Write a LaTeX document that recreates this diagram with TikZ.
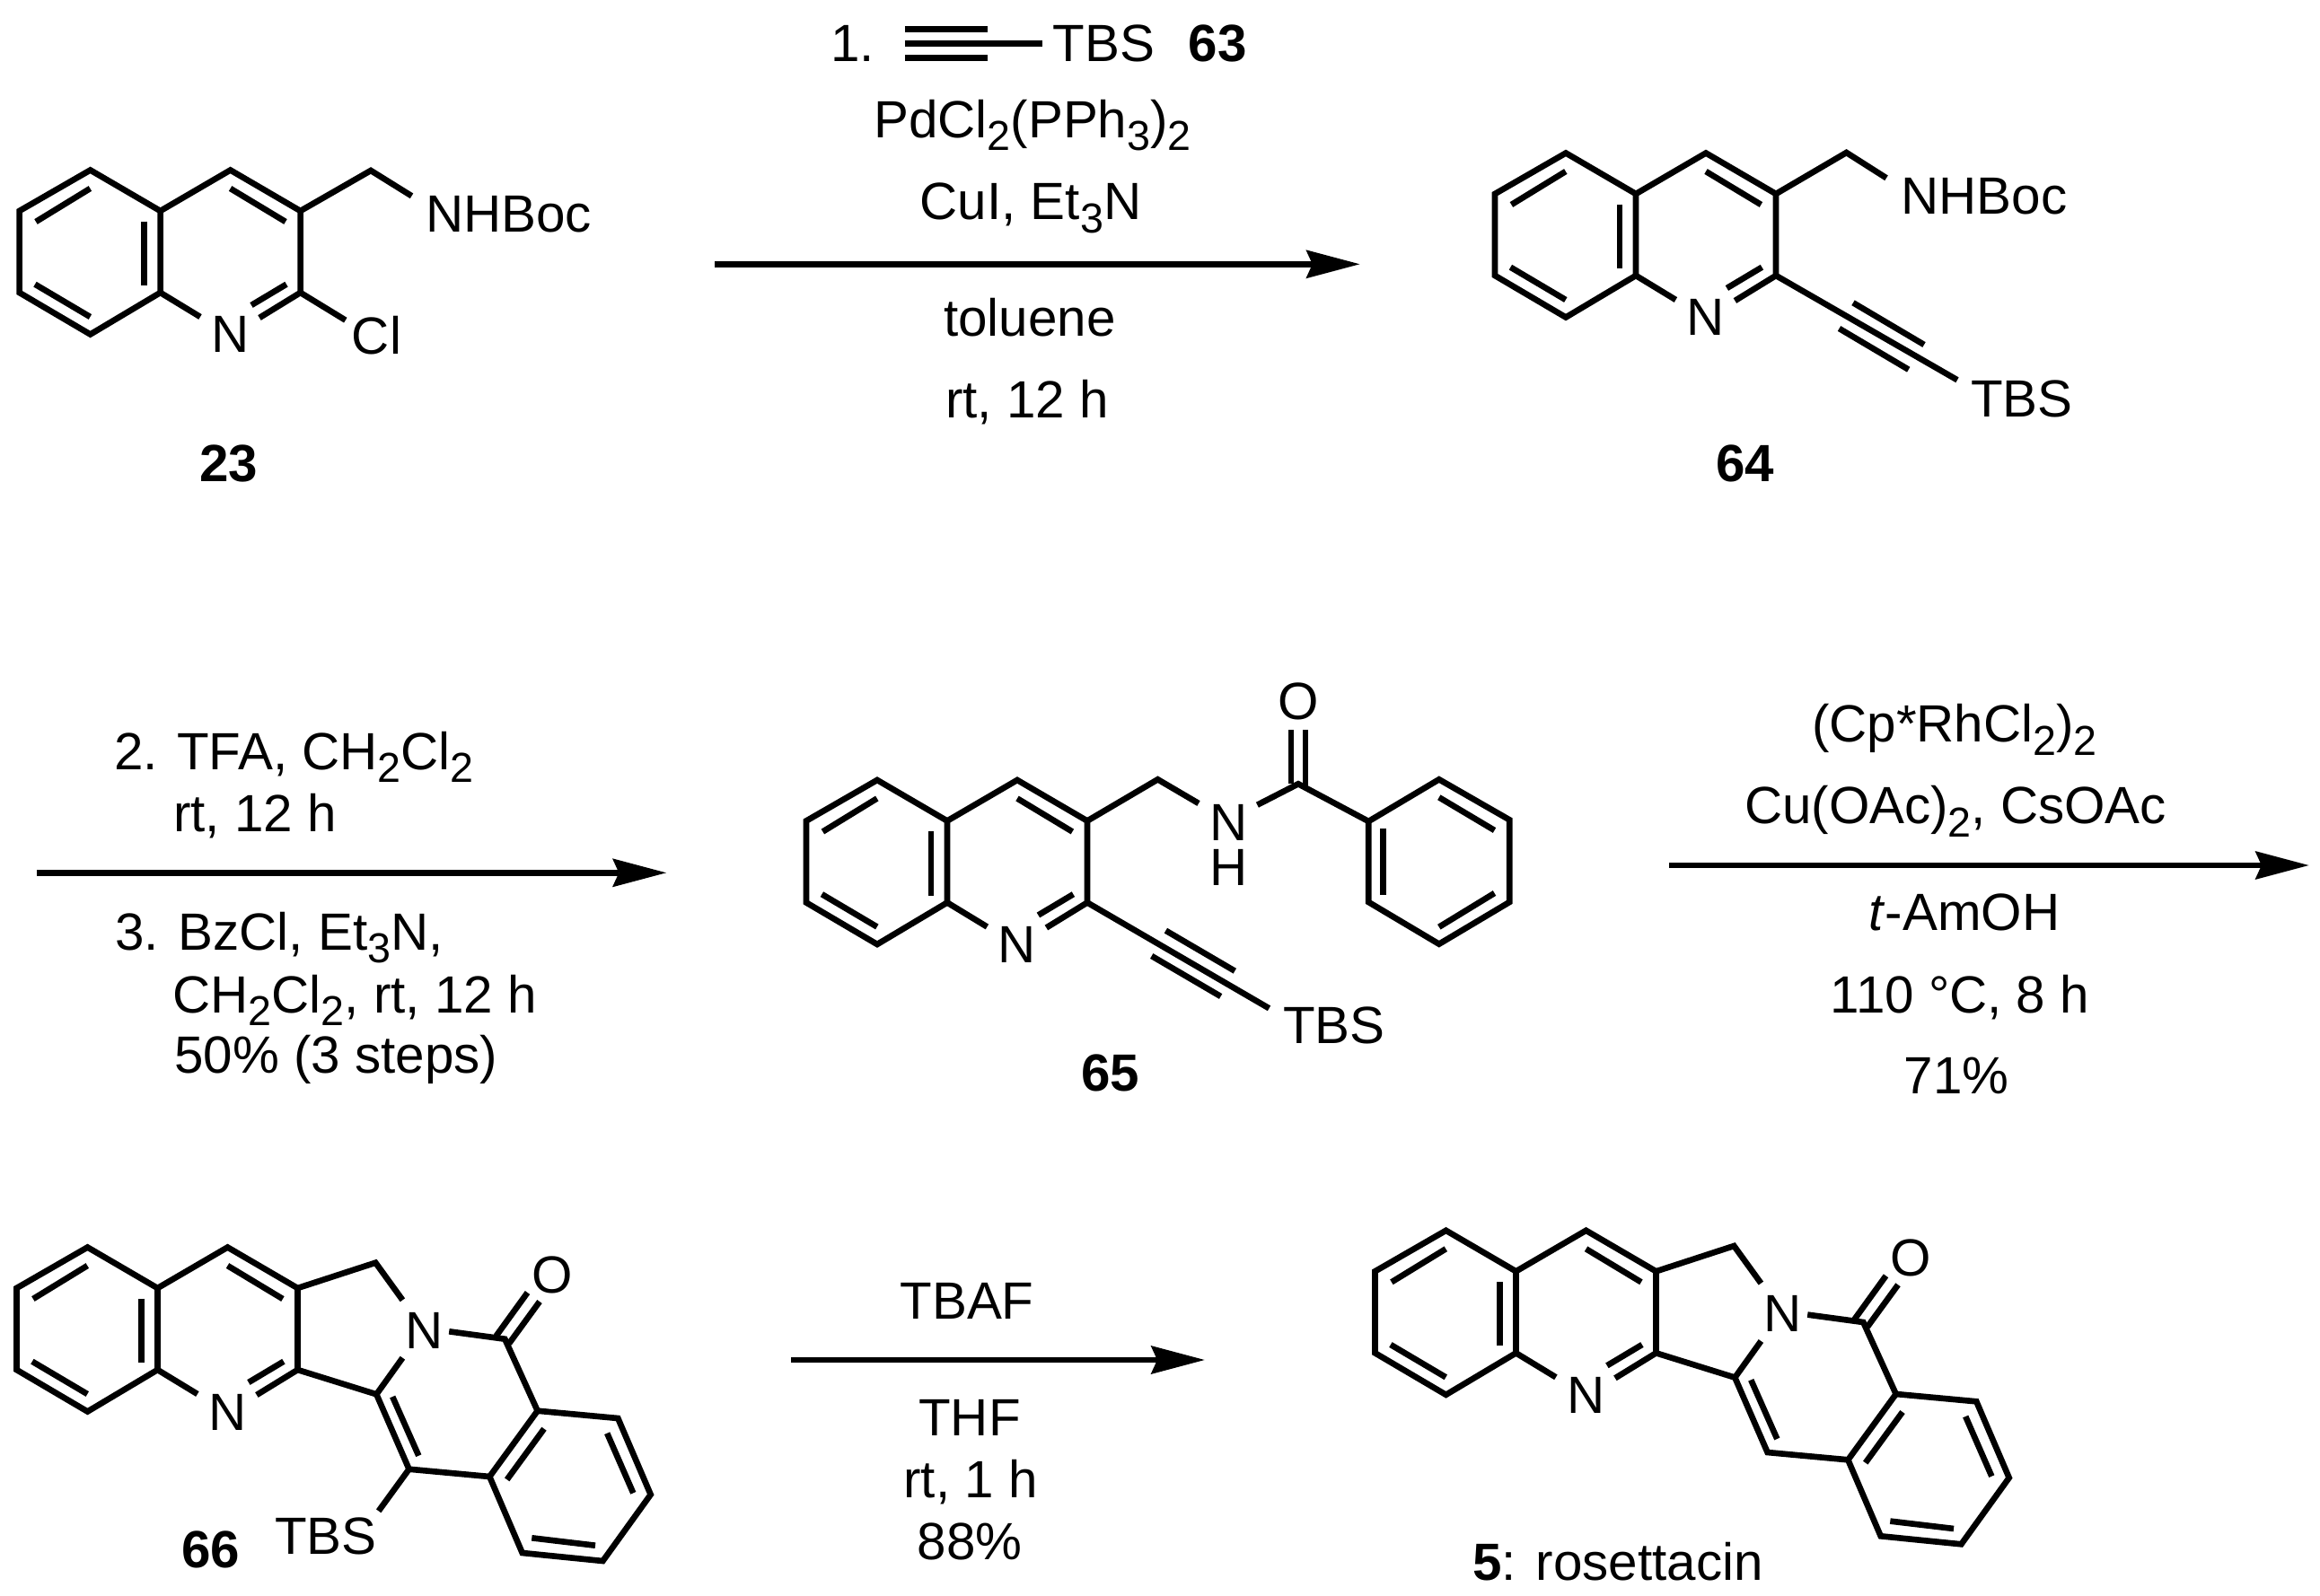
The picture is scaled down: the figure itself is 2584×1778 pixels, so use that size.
\documentclass[tikz,border=0pt]{standalone}
\usepackage{fontspec}
\setmainfont{Liberation Sans}
\usetikzlibrary{arrows.meta}
\newcommand{\sbs}[1]{\raisebox{-4.4pt}{\fontsize{14pt}{16pt}\selectfont #1}}
\tikzset{
  bond/.style={line width=2pt,line join=miter,line cap=butt},
  lab/.style={inner sep=0pt,outer sep=0pt,anchor=base,font=\fontsize{17.5pt}{20pt}\selectfont},
  labl/.style={lab,anchor=base west},
  rxn/.style={line width=2pt,line cap=butt,-{Stealth[length=18pt,width=9.6pt,inset=2.2pt,line width=0pt]}}
}
% quinoline core: #1 name prefix, origin (#2,#3) at C4a
\newcommand{\quinoline}[3]{%
  \begin{scope}[shift={(#2,#3)}]
    \coordinate (#1a) at (0,0);
    \coordinate (#1b) at (-78,-45.5);
    \coordinate (#1c) at (-157,0);
    \coordinate (#1d) at (-157,91);
    \coordinate (#1e) at (-78,137.5);
    \coordinate (#1f) at (0,91);
    \coordinate (#1g) at (78,-45.5);
    \coordinate (#1h) at (156,0);
    \coordinate (#1i) at (156,91);
    \coordinate (#1j) at (44.4,118);
    \coordinate (#1k) at (110.4,119);
    \node[lab] (#1N) at (78,158) {N};
    \draw[bond] (#1a) -- (#1b) -- (#1c) -- (#1d) -- (#1e) -- (#1f) -- cycle;
    \draw[bond] (#1a) -- (#1g) -- (#1h) -- (#1i) -- (#1k);
    \draw[bond] (#1f) -- (#1j);
    \draw[bond] (-138.6,12) -- (-78.2,-25);
    \draw[bond] (-18,11.7) -- (-18,83);
    \draw[bond] (-139.6,81.7) -- (-78.2,118);
    \draw[bond] (78,-25) -- (139.4,12);
    \draw[bond] (101.4,105) -- (140.4,81.7);
  \end{scope}}
% tetracycle of 66 and 5, drawn at the place of 66 and moved by (#2,#3)
\newcommand{\tetracycle}[3]{%
  \begin{scope}[shift={(#2,#3)}]
    \quinoline{#1q}{175.5}{1435}
    \coordinate (#1m) at (418.3,1406.7);
    \coordinate (#1n) at (448.4,1448.3);
    \coordinate (#1o) at (500.2,1483.3);
    \coordinate (#1p) at (562.3,1491.7);
    \coordinate (#1r) at (419.3,1553.3);
    \coordinate (#1s) at (448.4,1512.7);
    \coordinate (#1t) at (455.6,1636.7);
    \coordinate (#1u) at (545.3,1645);
    \coordinate (#1v) at (598.7,1571.7);
    \coordinate (#1w) at (688.3,1580);
    \coordinate (#1x) at (724.7,1665);
    \coordinate (#1y) at (671.4,1739);
    \coordinate (#1z) at (581.7,1730);
    \node[lab] (#1N) at (472.5,1502.3) {N};
    \node[lab] (#1O) at (615,1440) {O};
    \draw[bond] (#1qh) -- (#1m) -- (#1n);
    \draw[bond] (#1o) -- (#1p) -- (#1v);
    \draw[bond] (#1qi) -- (#1r) -- (#1t) -- (#1u);
    \draw[bond] (#1r) -- (#1s);
    \draw[bond] (#1v) -- (#1w) -- (#1x) -- (#1y) -- (#1z) -- (#1u) -- cycle;
    \draw[bond] (552.6,1488.3) -- (587.5,1440);
    \draw[bond] (567,1496.7) -- (601,1450);
    \draw[bond] (437.2,1556) -- (466.3,1621.7);
    \draw[bond] (606,1591.7) -- (564.7,1648.3);
    \draw[bond] (676.2,1596.7) -- (705.3,1663.3);
    \draw[bond] (592.3,1713.3) -- (663,1721.7);
  \end{scope}}
\begin{document}
\begin{tikzpicture}[x=0.3pt,y=-0.3pt]
\useasboundingbox (0,0) rectangle (2584,1778);
\fill[white] (0,0) rectangle (2584,1778);

% ---------- 23
\quinoline{A}{178.6}{235}
\coordinate (A1) at (413,190);
\coordinate (A2) at (458.5,218.3);
\coordinate (A3) at (384.8,356.7);
\draw[bond] (Ah) -- (A1) -- (A2);
\draw[bond] (Ai) -- (A3);
\node[lab] (Aboc) at (566.5,258.3) {NHBoc};
\node[lab] (Acl) at (419.5,395) {Cl};
\node[lab] (Aid) at (254.5,537) {\textbf{23}};

% ---------- arrow 1
\coordinate (r1s) at (796,294.3);
\coordinate (r1e) at (1514.4,294.3);
\draw[rxn] (r1s) -- (r1e);
\node[lab] (t11) at (949.5,69) {1.};
\coordinate (y1) at (1007.8,32.3);
\coordinate (y2) at (1100,32.3);
\coordinate (y3) at (1007.8,48.3);
\coordinate (y4) at (1160.5,48.3);
\coordinate (y5) at (1007.8,64.3);
\coordinate (y6) at (1100,64.3);
\draw[bond] (y1) -- (y2);
\draw[bond] (y3) -- (y4);
\draw[bond] (y5) -- (y6);
\node[lab] (t12) at (1229.5,69) {TBS};
\node[lab] (t13) at (1356,69) {\textbf{63}};
\node[lab] (t14) at (1150,153.3) {PdCl\sbs{2}(PPh\sbs{3})\sbs{2}};
\node[lab] (t15) at (1148,245) {CuI, Et\sbs{3}N};
\node[lab] (t16) at (1147,375) {toluene};
\node[lab] (t17) at (1144,465.7) {rt, 12 h};

% ---------- 64
\quinoline{B}{1822}{216}
\coordinate (B1) at (2056.5,170);
\coordinate (B2) at (2101,198.3);
\coordinate (B3) at (2180,423.3);
\draw[bond] (Bh) -- (B1) -- (B2);
\draw[bond] (Bi) -- (B3);
\draw[bond] (2064,337.3) -- (2143,384);
\draw[bond] (2048.5,366) -- (2125.7,411.7);
\node[lab] (Bboc) at (2210,238.3) {NHBoc};
\node[lab] (Btbs) at (2252,464.3) {TBS};
\node[lab] (Bid) at (1943.5,536.7) {\textbf{64}};

% ---------- arrow 2
\coordinate (r2s) at (40.8,972.3);
\coordinate (r2e) at (742,972.3);
\draw[rxn] (r2s) -- (r2e);
\node[labl] (t21) at (127,857.3) {2. TFA, CH\sbs{2}Cl\sbs{2}};
\node[labl] (t22) at (193,926.7) {rt, 12 h};
\node[labl] (t23) at (128.5,1058) {3. BzCl, Et\sbs{3}N,};
\node[labl] (t24) at (192.5,1128) {CH\sbs{2}Cl\sbs{2}, rt, 12 h};
\node[labl] (t25) at (194.5,1195.7) {50\% (3 steps)};

% ---------- 65
\quinoline{C}{1055}{914.5}
\coordinate (C1) at (1289.5,868.3);
\coordinate (C2) at (1335,895);
\coordinate (C3) at (1400.4,896.7);
\coordinate (C4) at (1446,873.3);
\coordinate (C5) at (1524.3,915);
\coordinate (C6) at (1602.8,868.3);
\coordinate (C7) at (1681.2,913.3);
\coordinate (C8) at (1681.2,1005);
\coordinate (C9) at (1602.8,1051.7);
\coordinate (C10) at (1524.3,1005);
\coordinate (C11) at (1413.5,1123.3);
\draw[bond] (Ch) -- (C1) -- (C2);
\draw[bond] (C3) -- (C4) -- (C5);
\draw[bond] (C5) -- (C6) -- (C7) -- (C8) -- (C9) -- (C10) -- cycle;
\draw[bond] (Ci) -- (C11);
\draw[bond] (1438,813) -- (1438,873);
\draw[bond] (1454,813) -- (1454,878);
\draw[bond] (1602.8,888.3) -- (1664.5,925);
\draw[bond] (1664.5,995) -- (1602.8,1032.7);
\draw[bond] (1540.6,923.3) -- (1540.6,996.7);
\draw[bond] (1298.4,1036.7) -- (1375.3,1081.7);
\draw[bond] (1282.7,1065) -- (1359.6,1110);
\node[lab] (CNa) at (1369,936.7) {N};
\node[lab] (CHa) at (1369,986.7) {H};
\node[lab] (CO) at (1446,801) {O};
\node[lab] (Ctbs) at (1486,1162.7) {TBS};
\node[lab] (Cid) at (1236.7,1215) {\textbf{65}};

% ---------- arrow 3
\coordinate (r3s) at (1859,964);
\coordinate (r3e) at (2571.5,964);
\draw[rxn] (r3s) -- (r3e);
\node[lab] (t31) at (2177,826.7) {(Cp*RhCl\sbs{2})\sbs{2}};
\node[lab] (t32) at (2178,917.7) {Cu(OAc)\sbs{2}, CsOAc};
\node[lab] (t33) at (2188,1036.7) {\textit{t}-AmOH};
\node[lab] (t34) at (2183,1128) {110 °C, 8 h};
\node[lab] (t35) at (2179,1218) {71\%};

% ---------- 66
\tetracycle{D}{0}{0}
\coordinate (D1) at (421.7,1683.3);
\draw[bond] (Dt) -- (D1);
\node[lab] (Dtbs) at (363,1731.7) {TBS};
\node[lab] (Did) at (234.6,1746.7) {\textbf{66}};

% ---------- arrow 4
\coordinate (r4s) at (881,1515);
\coordinate (r4e) at (1341.6,1515);
\draw[rxn] (r4s) -- (r4e);
\node[lab] (t41) at (1077,1469) {TBAF};
\node[lab] (t42) at (1080,1599) {THF};
\node[lab] (t43) at (1081,1668) {rt, 1 h};
\node[lab] (t44) at (1080,1737) {88\%};

% ---------- 5
\tetracycle{E}{1513}{-18.7}
\node[lab] (Eid) at (1802,1760) {\textbf{5}: rosettacin};
\end{tikzpicture}
\end{document}
